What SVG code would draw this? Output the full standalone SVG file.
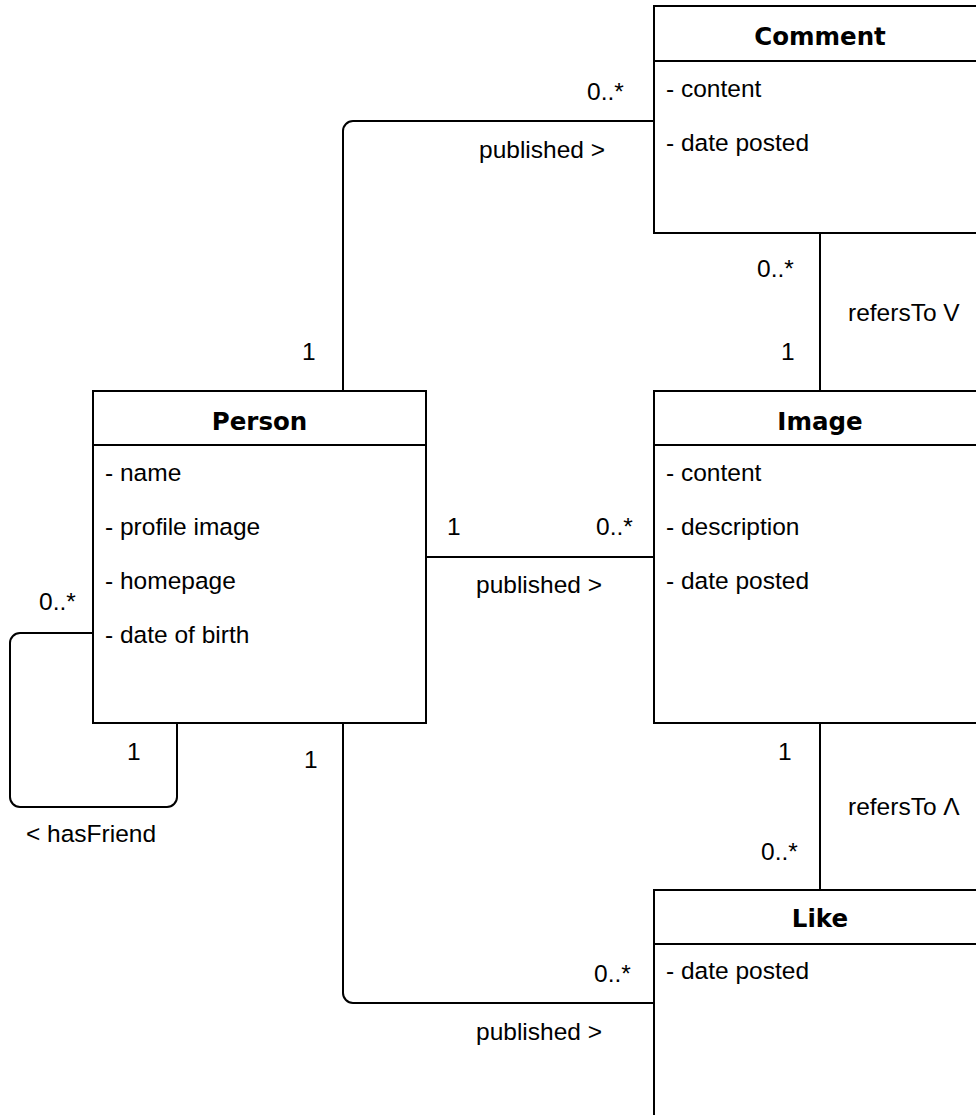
<svg xmlns="http://www.w3.org/2000/svg" width="976" height="1115" viewBox="0 0 976 1115">
  <style>
    .box { fill: #ffffff; stroke: #000000; stroke-width: 2; }
    .sep { stroke: #000000; stroke-width: 2; }
    .title { font-family: "DejaVu Sans", Verdana, sans-serif; font-weight: bold; font-size: 24.5px; text-anchor: middle; fill: #000000; }
    .attr { font-family: "Liberation Sans", Arial, Helvetica, sans-serif; font-size: 24.5px; fill: #000000; }
    .lbl { font-family: "Liberation Sans", Arial, Helvetica, sans-serif; font-size: 24.5px; fill: #000000; }
    .edge { fill: none; stroke: #000000; stroke-width: 2; }
  </style>
  <rect width="976" height="1115" fill="#ffffff"/>

  <!-- associations -->
  <g id="connectors">
    <!-- Person published Comment -->
    <path class="edge" d="M343,391 V131 A10,10 0 0 1 353,121 H654"/>
    <text class="lbl" x="587" y="100">0..*</text>
    <text class="lbl" x="479" y="158">published &gt;</text>
    <text class="lbl" x="302" y="360">1</text>

    <!-- Comment refersTo Image -->
    <path class="edge" d="M820,233 V391"/>
    <text class="lbl" x="757" y="277">0..*</text>
    <text class="lbl" x="848" y="321">refersTo V</text>
    <text class="lbl" x="781" y="360">1</text>

    <!-- Person published Image -->
    <path class="edge" d="M426,557 H654"/>
    <text class="lbl" x="447" y="535">1</text>
    <text class="lbl" x="596" y="535">0..*</text>
    <text class="lbl" x="476" y="593">published &gt;</text>

    <!-- Person hasFriend Person -->
    <path class="edge" d="M93,633 H20 A10,10 0 0 0 10,643 V797 A10,10 0 0 0 20,807 H167 A10,10 0 0 0 177,797 V723"/>
    <text class="lbl" x="39" y="610">0..*</text>
    <text class="lbl" x="127" y="760">1</text>
    <text class="lbl" x="26" y="842">&lt; hasFriend</text>

    <!-- Like refersTo Image -->
    <path class="edge" d="M820,723 V890"/>
    <text class="lbl" x="778" y="760">1</text>
    <text class="lbl" x="848" y="815">refersTo Λ</text>
    <text class="lbl" x="761" y="860">0..*</text>

    <!-- Person published Like -->
    <path class="edge" d="M343,723 V993 A10,10 0 0 0 353,1003 H654"/>
    <text class="lbl" x="304" y="768">1</text>
    <text class="lbl" x="594" y="982">0..*</text>
    <text class="lbl" x="476" y="1040">published &gt;</text>
  </g>

  <!-- classes -->
  <g id="comment">
    <rect class="box" x="654" y="6" width="332" height="227"/>
    <line class="sep" x1="654" y1="61" x2="986" y2="61"/>
    <text class="title" x="820" y="45">Comment</text>
    <text class="attr" x="666" y="97">- content</text>
    <text class="attr" x="666" y="151">- date posted</text>
  </g>

  <g id="person">
    <rect class="box" x="93" y="391" width="333" height="332"/>
    <line class="sep" x1="93" y1="445" x2="426" y2="445"/>
    <text class="title" x="259.5" y="430">Person</text>
    <text class="attr" x="105" y="481">- name</text>
    <text class="attr" x="105" y="535">- profile image</text>
    <text class="attr" x="105" y="589">- homepage</text>
    <text class="attr" x="105" y="643">- date of birth</text>
  </g>

  <g id="image">
    <rect class="box" x="654" y="391" width="332" height="332"/>
    <line class="sep" x1="654" y1="445" x2="986" y2="445"/>
    <text class="title" x="820" y="430">Image</text>
    <text class="attr" x="666" y="481">- content</text>
    <text class="attr" x="666" y="535">- description</text>
    <text class="attr" x="666" y="589">- date posted</text>
  </g>

  <g id="like">
    <rect class="box" x="654" y="890" width="332" height="240"/>
    <line class="sep" x1="654" y1="944" x2="986" y2="944"/>
    <text class="title" x="820" y="927">Like</text>
    <text class="attr" x="666" y="979">- date posted</text>
  </g>
</svg>
